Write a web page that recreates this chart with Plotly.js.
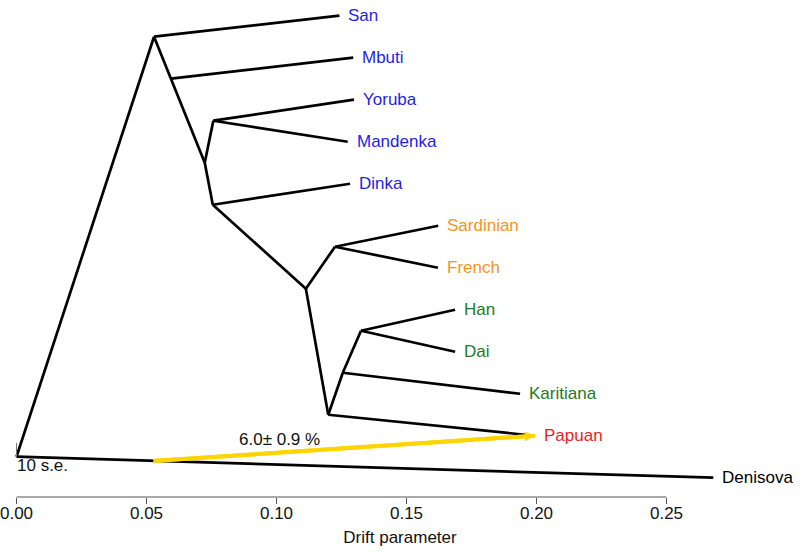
<!DOCTYPE html>
<html>
<head>
<meta charset="utf-8">
<script src="https://cdn.plot.ly/plotly-3.0.1.min.js"></script>
<style>html,body{margin:0;padding:0;background:#fff;}#chart{width:800px;height:554px;}</style>
</head>
<body>
<div id="chart"></div>
<script>
// ---- data ----
const nodeNames = ['root', 'A', 'B', 'C', 'YM', 'D', 'E', 'SF', 'EP', 'K', 'HD'];
const nodeX = [0.0, 0.0529, 0.0594, 0.0724, 0.0757, 0.0755, 0.1113, 0.1225, 0.1199, 0.1255, 0.1325];
const nodeY = [10.5, 0.5, 1.5, 3.5, 2.5, 4.5, 6.5, 5.5, 9.5, 8.5, 7.5];

const edgeFrom = ['root', 'A', 'B', 'C', 'C', 'D', 'E', 'E', 'EP', 'K'];
const edgeTo   = ['A', 'B', 'C', 'YM', 'D', 'E', 'SF', 'EP', 'K', 'HD'];

const tipNames  = ['San', 'Mbuti', 'Yoruba', 'Mandenka', 'Dinka', 'Sardinian', 'French', 'Han', 'Dai', 'Karitiana', 'Papuan', 'Denisova'];
const tipX      = [0.1242, 0.1295, 0.1298, 0.1274, 0.1283, 0.1622, 0.1621, 0.1687, 0.1687, 0.1937, 0.1994, 0.2680];
const tipY      = [0, 1, 2, 3, 4, 5, 6, 7, 8, 9, 10, 11];
const tipParent = ['A', 'B', 'YM', 'YM', 'D', 'SF', 'SF', 'HD', 'HD', 'K', 'EP', 'root'];
const tipGroup  = ['Africa', 'Africa', 'Africa', 'Africa', 'Africa', 'Europe', 'Europe', 'Asia', 'Asia', 'Asia', 'Oceania', 'Archaic'];
const groupColor = {Africa: '#1f1fe6', Europe: '#f7931e', Asia: '#1e7b1e', Oceania: '#f01c1c', Archaic: '#000000'};

const migX = [0.0526, 0.1994];
const migY = [10.6, 10.0];
const migLabel = '6.0\u00b1 0.9 %';
const migLabelX = 0.1013, migLabelY = 10.08;

const seBarX = [0, 0];
const seBarY = [10.17, 10.5];
const seLabel = '10 s.e.';

const xTicks = [0, 0.05, 0.10, 0.15, 0.20, 0.25];
const xTickText = ['0.00', '0.05', '0.10', '0.15', '0.20', '0.25'];

// ---- build ----
const idx = n => nodeNames.indexOf(n);
const ex = [], ey = [];
edgeFrom.forEach((f, i) => {
  const a = idx(f), b = idx(edgeTo[i]);
  ex.push(nodeX[a], nodeX[b], null);
  ey.push(nodeY[a], nodeY[b], null);
});
tipNames.forEach((t, i) => {
  const a = idx(tipParent[i]);
  ex.push(nodeX[a], tipX[i], null);
  ey.push(nodeY[a], tipY[i], null);
});

const FONT = 'Liberation Sans, Arial, sans-serif';
const GOLD = '#ffd400';

const traces = [
  {x: ex, y: ey, mode: 'lines', line: {color: '#000', width: 2.7}, hoverinfo: 'skip', showlegend: false},
  {x: seBarX, y: seBarY, mode: 'lines', line: {color: '#777', width: 1}, hoverinfo: 'skip', showlegend: false},
  {x: migX, y: migY, mode: 'lines', line: {color: GOLD, width: 4}, hoverinfo: 'skip', showlegend: false}
];

const annotations = tipNames.map((t, i) => ({
  x: tipX[i], y: tipY[i], xref: 'x', yref: 'y', text: t, showarrow: false,
  xanchor: 'left', yanchor: 'middle', xshift: 7,
  font: {family: FONT, size: 17, color: groupColor[tipGroup[i]]}
}));
annotations.push({x: migX[1], y: migY[1], xref: 'x', yref: 'y', ax: migX[0], ay: migY[0], axref: 'x', ayref: 'y',
  text: '', showarrow: true, arrowhead: 2, arrowsize: 0.5, arrowwidth: 4, arrowcolor: GOLD, standoff: 0, startstandoff: 0});
annotations.push({x: migLabelX, y: migLabelY, xref: 'x', yref: 'y', text: migLabel, showarrow: false,
  xanchor: 'center', yanchor: 'middle', font: {family: FONT, size: 17, color: '#111'}});
annotations.push({x: 0, y: 10.72, xref: 'x', yref: 'y', text: seLabel, showarrow: false,
  xanchor: 'left', yanchor: 'middle', xshift: -2, font: {family: FONT, size: 17, color: '#111'}});

const layout = {
  width: 800, height: 554,
  margin: {l: 0, r: 0, t: 0, b: 57},
  paper_bgcolor: '#fff', plot_bgcolor: '#fff',
  font: {family: FONT, size: 17, color: '#111'},
  xaxis: {
    range: [-16.5 / 2600, (800 - 16.5) / 2600],
    tickvals: xTicks, ticktext: xTickText,
    ticks: 'outside', ticklen: 6, tickcolor: '#555', tickwidth: 1,
    ticklabeloverflow: 'allow', ticklabelstandoff: -5,
    showline: false, showgrid: false, zeroline: false,
    tickfont: {family: FONT, size: 17, color: '#111'},
    title: {text: 'Drift parameter', font: {family: FONT, size: 17, color: '#111'}, standoff: 8}
  },
  yaxis: {
    range: [11.459, -0.374], visible: false, showgrid: false, zeroline: false
  },
  shapes: [{type: 'line', xref: 'x', yref: 'paper', x0: xTicks[0], x1: xTicks[xTicks.length - 1], y0: 0, y1: 0,
    line: {color: '#555', width: 1}}],
  annotations: annotations,
  showlegend: false
};

Plotly.newPlot('chart', traces, layout, {displayModeBar: false, staticPlot: true});
</script>
</body>
</html>
